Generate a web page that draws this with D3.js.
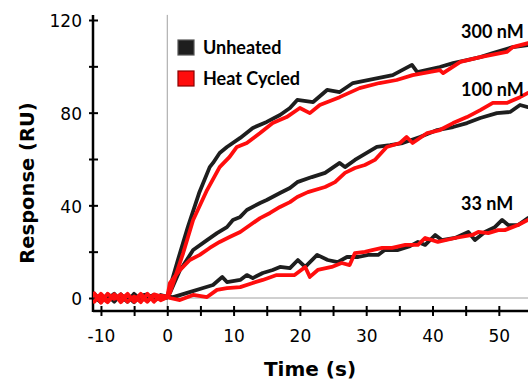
<!DOCTYPE html>
<html><head><meta charset="utf-8">
<script src="https://cdn.jsdelivr.net/npm/d3@7"></script>
<style>
html,body{margin:0;padding:0;background:#fff;}
svg{display:block;}
</style>
</head><body>
<svg id="chart" width="528" height="382"></svg>
<script>
// ---- data (time s, response RU) ----
const baseTimes = [-11,-10,-9,-8,-7,-6,-5,-4,-3,-2,-1];
const baseBlack300 = [1.8,-1.2,1.0,-1.6,1.6,-1.0,1.3,-1.3,1.0,-0.7,1.3];
const baseRed300   = [-1.6,1.8,-1.3,1.6,-1.8,1.3,-1.0,1.8,-1.3,1.0,-1.0];
const baseBlack100 = [0.4,-1.8,1.6,-1.0,0.7,-1.6,1.8,-0.7,0.4,1.3,-0.4];
const baseRed100   = [1.0,0.4,-1.8,1.3,-0.7,1.8,-1.6,0.7,-1.6,1.6,0.7];
const baseBlack33  = [-0.7,1.3,-0.4,1.8,-1.3,0.4,-1.8,1.0,1.6,-1.0,0.4];
const baseRed33    = [2.0,-2.0,1.8,-0.4,1.6,-1.6,0.7,-1.8,1.8,-1.6,1.0];

const black300 = [[0,0.5],[1.6,16.4],[3.1,30.6],[4.8,45.3],[6.4,56.5],[6.9,58.3],[7.9,62.6],[9.0,65.2],[11.0,69.1],[12.9,73.4],[15.0,76],[17.0,79],[18.5,82],[19.6,85.5],[22,84.6],[24.1,89.8],[26,88.9],[28,92.8],[31,94.5],[34,96.2],[36.9,100.6],[37.7,97.5],[41.1,99.7],[43.1,101.4],[45.2,102.7],[47.2,104],[49.1,105.7],[52.1,108.3],[54.4,109.2]];
const red300 = [[0,0.3],[0.4,2.2],[2.4,19.4],[3.9,33.7],[6,46.6],[7.9,56.5],[9.4,60.9],[10.5,65.2],[12,66.9],[14,71.2],[15.9,75.5],[18,78.1],[20,82],[21.5,79.8],[23,83.3],[26,86.7],[29,90.6],[32,92.8],[34.6,94.1],[37,96.2],[41.1,98.4],[41.6,97.1],[44.2,101.9],[47.2,104],[51.2,106.2],[52.1,108.3],[54.4,110]];
const black100 = [[0,0.2],[0.4,2.2],[1.9,12],[2.4,14],[3.9,20.7],[6,25],[7.5,28],[9,30.6],[9.9,33.7],[11,35],[12,38],[14,41],[15,42.3],[17,45.3],[18.5,47.5],[19.6,50],[21.8,52.2],[23.8,54],[26,58.3],[26.8,56.5],[28.3,59.6],[31.6,65.2],[33.6,66],[35.5,66.9],[38.1,69.5],[40.7,72.5],[43.1,73.8],[45.2,75.5],[47.2,77.7],[49.7,79.8],[51.7,80.3],[53.2,83.3],[54.4,82.4]];
const red100 = [[0,0.4],[0.4,6.5],[1.9,12],[3.4,16.4],[4.9,18.6],[6.4,21.6],[7.9,24.2],[9.4,26.3],[11,28.5],[12.5,31.5],[14,34.5],[15.5,36.7],[17,39.3],[18.5,41.4],[19.6,43.6],[21.2,45.7],[23.8,47.9],[25.3,50],[26.8,54],[28.3,56.1],[29.8,57.4],[31.3,59.6],[33.1,65.2],[35.1,66.9],[36.1,69.5],[37,66.9],[39.2,71.2],[41.1,72.5],[43.1,75.5],[45.2,78.1],[47.2,81.1],[49.1,84.2],[51.2,84.2],[53.2,86.7],[54.4,88.5]];
const black33 = [[0,0.6],[0.9,0.4],[3,2.2],[5.4,4.3],[6.9,5.6],[8.3,9.1],[9,6.9],[11,7.8],[12,9.9],[12.9,8.6],[14.4,10.8],[15.9,12.1],[17,13.4],[18.5,12.9],[19.7,16.4],[20.8,13.4],[22.6,18.6],[24.2,16.4],[25.7,15.5],[27.1,17.7],[28.8,17.7],[30.3,18.6],[31.8,18.6],[32.8,20.7],[34.8,20.7],[36.6,22.4],[37.8,24.2],[38.9,22.9],[40.4,27.2],[41.4,25],[43.4,25.9],[45.4,28.5],[46.4,25],[47.9,28.5],[49.4,30.6],[50.5,33.7],[51.4,31.5],[52.9,31.5],[54.4,34.5]];
const red33 = [[0,0.6],[0.4,0],[1.9,-0.9],[3.9,1.3],[6,0.4],[7.5,3.5],[9,4.3],[11,4.7],[12.9,6.5],[14.4,7.8],[16.5,9.9],[17.7,9.9],[19.2,9.9],[20.8,13.4],[21.5,9.1],[22.7,12.1],[24.8,13.4],[26.3,15.1],[27.5,14.2],[28.3,19.4],[29.8,19.9],[30.9,20.7],[32.4,21.6],[33.9,21.6],[35.9,22.9],[37.8,22.9],[38.9,25.9],[40.8,24.2],[43.4,25.9],[46,27.2],[46.9,28.5],[48.4,28],[49.9,29.3],[50.9,29.3],[52.9,31.5],[54.4,33.7]];

const xTicks = [-10,-5,0,5,10,15,20,25,30,35,40,45,50];
const xTickLabels = [-10,0,10,20,30,40,50];
const yTicks = [0,20,40,60,80,100,120];
const yTickLabels = [0,40,80,120];
const legendLabels = ["Unheated","Heat Cycled"];
const seriesColors = ["#1e1e1e","#ff0d0d"];
const concLabels = [{text:"300 nM", t:44.3, v:112.4},{text:"100 nM", t:44.3, v:87.4},{text:"33 nM", t:44.3, v:38.0}];

// ---- build ----
const svg = d3.select("#chart");
const x = d3.scaleLinear().domain([-11.2, 54.4]).range([93, 528]);
const y = d3.scaleLinear().domain([0, 120]).range([298, 20]);

// reference lines
svg.append("line").attr("x1", x(-11.2)).attr("x2", 528).attr("y1", y(0)).attr("y2", y(0))
  .attr("stroke", "#a0a0a0").attr("stroke-width", 1);
svg.append("line").attr("x1", x(0)).attr("x2", x(0)).attr("y1", y(122.2)).attr("y2", y(-5.6))
  .attr("stroke", "#a0a0a0").attr("stroke-width", 1);

// axes
const axisY = y(-5.6);
const gx = svg.append("g").attr("transform", `translate(0,${axisY})`)
  .call(d3.axisBottom(x).tickValues(xTicks).tickSizeInner(5).tickSizeOuter(0)
    .tickFormat(d => xTickLabels.includes(d) ? d : ""));
gx.select(".domain").remove();
gx.selectAll(".tick line").attr("y1", -5).attr("y2", 5).attr("stroke", "#000").attr("stroke-width", 2);
gx.selectAll(".tick text").attr("y", 19).attr("dy", "0.71em")
  .attr("font-family", "DejaVu Sans, Verdana, sans-serif").attr("font-size", 17).attr("fill", "#000")
  .text(d => xTickLabels.includes(d) ? (d < 0 ? "-" + Math.abs(d) : d) : "");

const gy = svg.append("g").attr("transform", `translate(${x(-11.2)},0)`)
  .call(d3.axisLeft(y).tickValues(yTicks).tickSizeInner(5).tickSizeOuter(0)
    .tickFormat(d => yTickLabels.includes(d) ? d : ""));
gy.select(".domain").remove();
gy.selectAll(".tick line").attr("x1", -4).attr("x2", 5).attr("stroke", "#000").attr("stroke-width", 2);
gy.selectAll(".tick text").attr("x", -11).attr("dy", "0.4em")
  .attr("font-family", "DejaVu Sans, Verdana, sans-serif").attr("font-size", 17).attr("fill", "#000");

svg.append("line").attr("x1", x(-11.2)).attr("x2", 528).attr("y1", axisY).attr("y2", axisY)
  .attr("stroke", "#000").attr("stroke-width", 2.5);
svg.append("line").attr("x1", x(-11.2)).attr("x2", x(-11.2)).attr("y1", y(122.2)).attr("y2", axisY + 1)
  .attr("stroke", "#000").attr("stroke-width", 2.5);

// axis titles
svg.append("text").attr("x", 310).attr("y", 376).attr("text-anchor", "middle")
  .attr("font-family", "DejaVu Sans, Verdana, sans-serif").attr("font-weight", "bold").attr("font-size", 20)
  .text("Time (s)");
svg.append("text").attr("transform", "translate(34,183) rotate(-90)").attr("text-anchor", "middle")
  .attr("font-family", "DejaVu Sans, Verdana, sans-serif").attr("font-weight", "bold").attr("font-size", 19.5)
  .text("Response (RU)");

// series
function withBase(times, vals, pts) { return times.map((t, i) => [t, vals[i]]).concat(pts); }
const blackSeries = [withBase(baseTimes, baseBlack300, black300), withBase(baseTimes, baseBlack100, black100), withBase(baseTimes, baseBlack33, black33)];
const redSeries = [withBase(baseTimes, baseRed300, red300), withBase(baseTimes, baseRed100, red100), withBase(baseTimes, baseRed33, red33)];

const line = d3.line().x(d => x(d[0])).y(d => y(d[1]));
const clip = svg.append("clipPath").attr("id", "plotclip").append("rect")
  .attr("x", x(-11.2)).attr("y", 0).attr("width", 528 - x(-11.2)).attr("height", 382);
const plot = svg.append("g").attr("clip-path", "url(#plotclip)");
[blackSeries, redSeries].forEach((group, gi) => {
  group.forEach(s => {
    plot.append("path").datum(s).attr("d", line).attr("fill", "none")
      .attr("stroke", seriesColors[gi]).attr("stroke-width", 3.8)
      .attr("stroke-linejoin", "round").attr("stroke-linecap", "round");
  });
});

// legend
const lg = svg.append("g");
legendLabels.forEach((lab, i) => {
  const yy = 40 + i * 31;
  lg.append("rect").attr("x", 178).attr("y", yy).attr("width", 16).attr("height", 15)
    .attr("fill", seriesColors[i]).attr("stroke", i === 0 ? "#555" : "#8a0000").attr("stroke-width", 1.2);
  lg.append("text").attr("x", 203).attr("y", yy + 14)
    .attr("font-family", "Lato, 'Open Sans', sans-serif").attr("font-weight", "bold").attr("font-size", 18)
    .attr("fill", "#000").text(lab);
});

// concentration labels
concLabels.forEach(c => {
  svg.append("text").attr("x", x(c.t)).attr("y", y(c.v))
    .attr("font-family", "Lato, 'Open Sans', sans-serif").attr("font-weight", "bold").attr("font-size", 18)
    .attr("fill", "#000").text(c.text);
});
</script>
</body></html>
